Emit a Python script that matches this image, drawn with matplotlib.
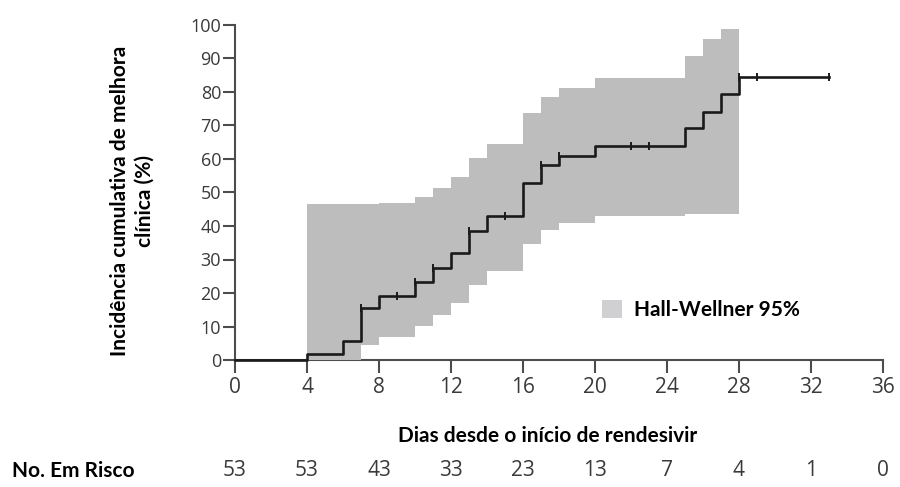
import matplotlib
matplotlib.use("Agg")
import matplotlib.pyplot as plt
from matplotlib.patches import Patch
from matplotlib.transforms import blended_transform_factory

# Kaplan-Meier style cumulative incidence (step, post)
days = [0, 4, 6, 7, 8, 10, 11, 12, 13, 14, 16, 17, 18, 20, 25, 26, 27, 28, 33]
incidence = [0, 1.9, 5.8, 15.4, 19.2, 23.4, 27.4, 32.0, 38.6, 43.0, 52.9,
             58.2, 61.0, 63.9, 69.2, 74.1, 79.4, 84.4, 84.4]

# censored observations
censor_days = [7, 9, 10, 11, 13, 15, 17, 18, 22, 23, 28, 29, 33]

# Hall-Wellner 95% confidence band
band_days = [4, 7, 8, 10, 11, 12, 13, 14, 16, 17, 18, 20, 25, 26, 27, 28]
band_upper = [46.6, 46.6, 46.8, 48.6, 51.2, 54.7, 60.2, 64.4, 73.6, 78.4,
              81.1, 84.1, 90.8, 95.8, 98.8, 98.8]
band_lower = [0, 4.5, 7.0, 10.1, 13.4, 16.9, 22.4, 26.6, 34.5, 38.8, 40.8,
              43.1, 43.6, 43.6, 43.6, 43.6]

# number at risk
risk_days = [0, 4, 8, 12, 16, 20, 24, 28, 32, 36]
at_risk = [53, 53, 43, 33, 23, 13, 7, 4, 1, 0]

x_ticks = [0, 4, 8, 12, 16, 20, 24, 28, 32, 36]
y_ticks = [0, 10, 20, 30, 40, 50, 60, 70, 80, 90, 100]

NUM_FONT = ["Open Sans", "DejaVu Sans"]
LBL_FONT = ["Lato", "DejaVu Sans"]
LBL_SIZE = 15
NUM_COLOR = "#3a3a3a"
AXIS_COLOR = "#4d4d4d"

fig = plt.figure(figsize=(9, 4.87), dpi=100)
ax = fig.add_axes([235 / 900, 1 - 360 / 487, (883 - 235) / 900, (360 - 25) / 487])

ax.fill_between(band_days, band_lower, band_upper, step="post",
                color="#bdbdbd", linewidth=0, zorder=1)
ax.step(days, incidence, where="post", color="#1a1a1a", linewidth=1.9,
        zorder=3, clip_on=False)


def value_at(t):
    v = incidence[0]
    for d, y in zip(days, incidence):
        if d <= t:
            v = y
    return v


ax.plot(censor_days, [value_at(t) for t in censor_days], linestyle="none",
        marker="|", markersize=5.5, markeredgewidth=1.4, color="#1a1a1a",
        zorder=4, clip_on=False)

ax.set_xlim(0, 36)
ax.set_ylim(0, 100)
ax.set_xticks(x_ticks)
ax.set_yticks(y_ticks)
ax.set_xticklabels([str(t) for t in x_ticks], family=NUM_FONT, fontsize=15,
                   color=NUM_COLOR)
ax.set_yticklabels([str(t) for t in y_ticks], family=NUM_FONT, fontsize=13,
                   color=NUM_COLOR)
ax.tick_params(axis="both", length=9, width=1.5, color=AXIS_COLOR)
ax.tick_params(axis="x", pad=3)
ax.tick_params(axis="y", pad=1)

for side in ("top", "right"):
    ax.spines[side].set_visible(False)
for side in ("left", "bottom"):
    ax.spines[side].set_color(AXIS_COLOR)
    ax.spines[side].set_linewidth(1.5)
    ax.spines[side].set_zorder(0.5)

ax.set_ylabel("Incidência cumulativa de melhora\nclínica (%)", family=LBL_FONT,
              fontweight="bold", fontsize=LBL_SIZE, linespacing=1.3)
ax.yaxis.set_label_coords(-0.124, 0.475)
ax.set_xlabel("Dias desde o início de rendesivir", family=LBL_FONT,
              fontweight="bold", fontsize=LBL_SIZE)
ax.xaxis.set_label_coords((548 - 235) / 648, -(426 - 360) / 335)

# at-risk table under the axis
trans = blended_transform_factory(ax.transData, fig.transFigure)
for d, n in zip(risk_days, at_risk):
    ax.text(d, 1 - 471 / 487, str(n), transform=trans, ha="center", va="center",
            family=NUM_FONT, fontsize=15, color=NUM_COLOR, clip_on=False)
fig.text(12 / 900, 1 - 471 / 487, "No. Em Risco", ha="left", va="center",
         family=LBL_FONT, fontweight="bold", fontsize=LBL_SIZE)

ax.legend(handles=[Patch(facecolor="#d0d0d2", edgecolor="none",
                         label="Hall-Wellner 95%")],
          loc="center left", bbox_to_anchor=(602 / 900, 1 - 310 / 487),
          bbox_transform=fig.transFigure, frameon=False, handlelength=0.95,
          handleheight=0.95, handletextpad=0.6, borderpad=0, borderaxespad=0,
          prop={"family": LBL_FONT, "weight": "bold", "size": LBL_SIZE})

fig.savefig("out.png", dpi=100)
